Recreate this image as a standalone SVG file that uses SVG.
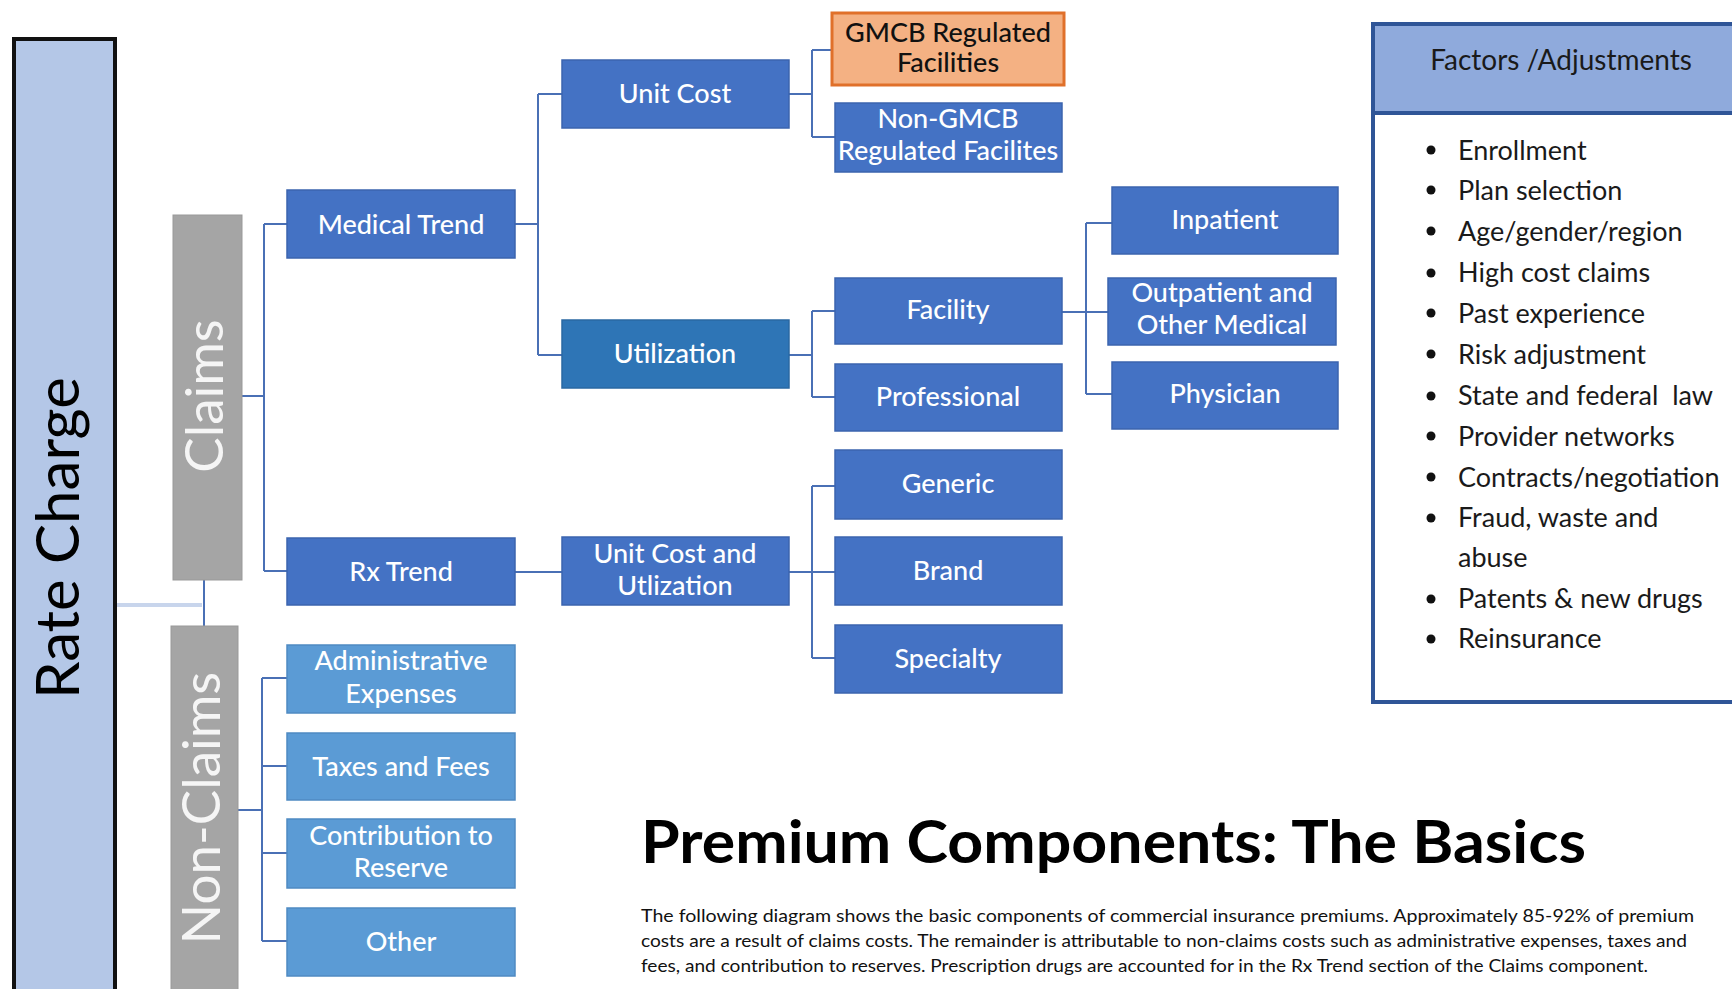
<svg xmlns="http://www.w3.org/2000/svg" width="1732" height="989" viewBox="0 0 1732 989">
<style>
.lbl{font-family:Lato,"Open Sans","Liberation Sans",sans-serif;font-size:27px;font-weight:500;fill:#fff;text-anchor:middle}
.dark{fill:#4472C4;stroke:#3B64AE;stroke-width:1.5}
.mid{fill:#5B9BD5;stroke:#4F8AC2;stroke-width:1.5}
.gray{fill:#A5A5A5;stroke:#999;stroke-width:1}
.vt{font-family:Lato,"Open Sans","Liberation Sans",sans-serif;fill:#F5F5F5;text-anchor:middle}
.conn{fill:none;stroke:#4A70B5;stroke-width:2}
.item{font-family:Lato,"Open Sans","Liberation Sans",sans-serif;font-size:27px;fill:#1a1a1a}
.para{font-family:Lato,"Open Sans","Liberation Sans",sans-serif;font-size:17px;fill:#111}
</style>
<rect width="1732" height="989" fill="#fff"/>
<g id="connectors">
<path d="M116 605 H202" fill="none" stroke="#C8D5EC" stroke-width="4"/>
<path class="conn" d="M204 580 V626"/>
<path class="conn" d="M242 396 H264 M264 224 V571 M264 224 H287 M264 571 H287"/>
<path class="conn" d="M238 810 H262 M262 678 V941 M262 678 H287 M262 766 H287 M262 853 H287 M262 941 H287"/>
<path class="conn" d="M515 224 H538 M538 94 V355 M538 94 H562 M538 355 H562"/>
<path class="conn" d="M515 572 H562"/>
<path class="conn" d="M789 94 H812 M812 50 V137 M812 50 H831 M812 137 H835"/>
<path class="conn" d="M789 355 H812 M812 311 V397 M812 311 H835 M812 397 H835"/>
<path class="conn" d="M789 572 H835 M812 486 V658 M812 486 H835 M812 658 H835"/>
<path class="conn" d="M1062 312 H1108 M1086 223 V394 M1086 223 H1112 M1086 394 H1112"/>
</g>
<g id="rate-charge">
<rect x="14" y="39" width="101" height="960" fill="#B4C7E7" stroke="#111" stroke-width="4"/>
<text transform="translate(79,538) rotate(-90)" font-family="Lato,'Open Sans','Liberation Sans',sans-serif" font-size="60" fill="#000" text-anchor="middle">Rate Charge</text>
</g>
<g id="claims">
<rect class="gray" x="173" y="215" width="69" height="365"/>
<text class="vt" font-size="53" transform="translate(223,396) rotate(-90)">Claims</text>
</g>
<g id="non-claims">
<rect class="gray" x="171" y="626" width="67" height="380"/>
<text class="vt" font-size="53" transform="translate(220,808) rotate(-90)">Non-Claims</text>
</g>
<g id="medical-trend"><rect class="dark" x="287" y="190" width="228" height="68"/><text class="lbl" x="401" y="234">Medical Trend</text></g>
<g id="rx-trend"><rect class="dark" x="287" y="538" width="228" height="67"/><text class="lbl" x="401" y="581">Rx Trend</text></g>
<g id="admin"><rect class="mid" x="287" y="645" width="228" height="68"/><text class="lbl" x="401" y="670">Administrative</text><text class="lbl" x="401" y="703">Expenses</text></g>
<g id="taxes"><rect class="mid" x="287" y="733" width="228" height="67"/><text class="lbl" x="401" y="776">Taxes and Fees</text></g>
<g id="contribution"><rect class="mid" x="287" y="819" width="228" height="69"/><text class="lbl" x="401" y="845">Contribution to</text><text class="lbl" x="401" y="877">Reserve</text></g>
<g id="other"><rect class="mid" x="287" y="908" width="228" height="68"/><text class="lbl" x="401" y="951">Other</text></g>
<g id="unit-cost"><rect class="dark" x="562" y="60" width="227" height="68"/><text class="lbl" x="675" y="103">Unit Cost</text></g>
<g id="utilization"><rect x="562" y="320" width="227" height="68" fill="#2E75B6" stroke="#2A68A2" stroke-width="1.5"/><text class="lbl" x="675" y="363">Utilization</text></g>
<g id="unit-cost-utilization"><rect class="dark" x="562" y="537" width="227" height="68"/><text class="lbl" x="675" y="563">Unit Cost and</text><text class="lbl" x="675" y="595">Utlization</text></g>
<g id="gmcb"><rect x="832" y="13" width="232" height="72" fill="#F4B183" stroke="#E0702A" stroke-width="3"/><text class="lbl" style="fill:#111" x="948" y="42">GMCB Regulated</text><text class="lbl" style="fill:#111" x="948" y="72">Facilities</text></g>
<g id="non-gmcb"><rect class="dark" x="835" y="103" width="227" height="69"/><text class="lbl" x="948" y="128">Non-GMCB</text><text class="lbl" x="948" y="160">Regulated Facilites</text></g>
<g id="facility"><rect class="dark" x="835" y="278" width="227" height="66"/><text class="lbl" x="948" y="319">Facility</text></g>
<g id="professional"><rect class="dark" x="835" y="364" width="227" height="67"/><text class="lbl" x="948" y="406">Professional</text></g>
<g id="generic"><rect class="dark" x="835" y="450" width="227" height="69"/><text class="lbl" x="948" y="493">Generic</text></g>
<g id="brand"><rect class="dark" x="835" y="537" width="227" height="68"/><text class="lbl" x="948" y="580">Brand</text></g>
<g id="specialty"><rect class="dark" x="835" y="625" width="227" height="68"/><text class="lbl" x="948" y="668">Specialty</text></g>
<g id="inpatient"><rect class="dark" x="1112" y="187" width="226" height="67"/><text class="lbl" x="1225" y="229">Inpatient</text></g>
<g id="outpatient"><rect class="dark" x="1108" y="278" width="228" height="67"/><text class="lbl" x="1222" y="302">Outpatient and</text><text class="lbl" x="1222" y="334">Other Medical</text></g>
<g id="physician"><rect class="dark" x="1112" y="362" width="226" height="67"/><text class="lbl" x="1225" y="403">Physician</text></g>
<g id="factors">
<rect x="1373" y="24" width="380" height="678" fill="#fff" stroke="#2F5597" stroke-width="4"/>
<rect x="1375" y="26" width="360" height="87" fill="#8FAADC"/>
<line x1="1373" y1="113" x2="1740" y2="113" stroke="#2F5597" stroke-width="4"/>
<text x="1561" y="70" font-family="Lato,'Open Sans','Liberation Sans',sans-serif" font-size="28" fill="#1a1a1a" text-anchor="middle">Factors /Adjustments</text>
<g fill="#111">
<circle cx="1431" cy="150" r="4.5"/><circle cx="1431" cy="190" r="4.5"/><circle cx="1431" cy="231" r="4.5"/><circle cx="1431" cy="273" r="4.5"/><circle cx="1431" cy="313" r="4.5"/><circle cx="1431" cy="354" r="4.5"/><circle cx="1431" cy="396" r="4.5"/><circle cx="1431" cy="436" r="4.5"/><circle cx="1431" cy="477" r="4.5"/><circle cx="1431" cy="518" r="4.5"/><circle cx="1431" cy="599" r="4.5"/><circle cx="1431" cy="639" r="4.5"/>
</g>
<text class="item" x="1458" y="160">Enrollment</text>
<text class="item" x="1458" y="200">Plan selection</text>
<text class="item" x="1458" y="241">Age/gender/region</text>
<text class="item" x="1458" y="282">High cost claims</text>
<text class="item" x="1458" y="323">Past experience</text>
<text class="item" x="1458" y="364">Risk adjustment</text>
<text class="item" x="1458" y="405">State and federal&#160; law</text>
<text class="item" x="1458" y="446">Provider networks</text>
<text class="item" x="1458" y="487">Contracts/negotiation</text>
<text class="item" x="1458" y="527">Fraud, waste and</text>
<text class="item" x="1458" y="567">abuse</text>
<text class="item" x="1458" y="608">Patents &amp; new drugs</text>
<text class="item" x="1458" y="648">Reinsurance</text>
</g>
<g id="title">
<text x="641" y="863" font-family="Lato,'Open Sans','Liberation Sans',sans-serif" font-size="60" font-weight="bold" fill="#000" textLength="945" lengthAdjust="spacingAndGlyphs">Premium Components: The Basics</text>
<text class="para" x="641" y="922" textLength="1053" lengthAdjust="spacingAndGlyphs">The following diagram shows the basic components of commercial insurance premiums. Approximately 85-92% of premium</text>
<text class="para" x="641" y="947" textLength="1046" lengthAdjust="spacingAndGlyphs">costs are a result of claims costs. The remainder is attributable to non-claims costs such as administrative expenses, taxes and</text>
<text class="para" x="641" y="972" textLength="1007" lengthAdjust="spacingAndGlyphs">fees, and contribution to reserves. Prescription drugs are accounted for in the Rx Trend section of the Claims component.</text>
</g>
</svg>
